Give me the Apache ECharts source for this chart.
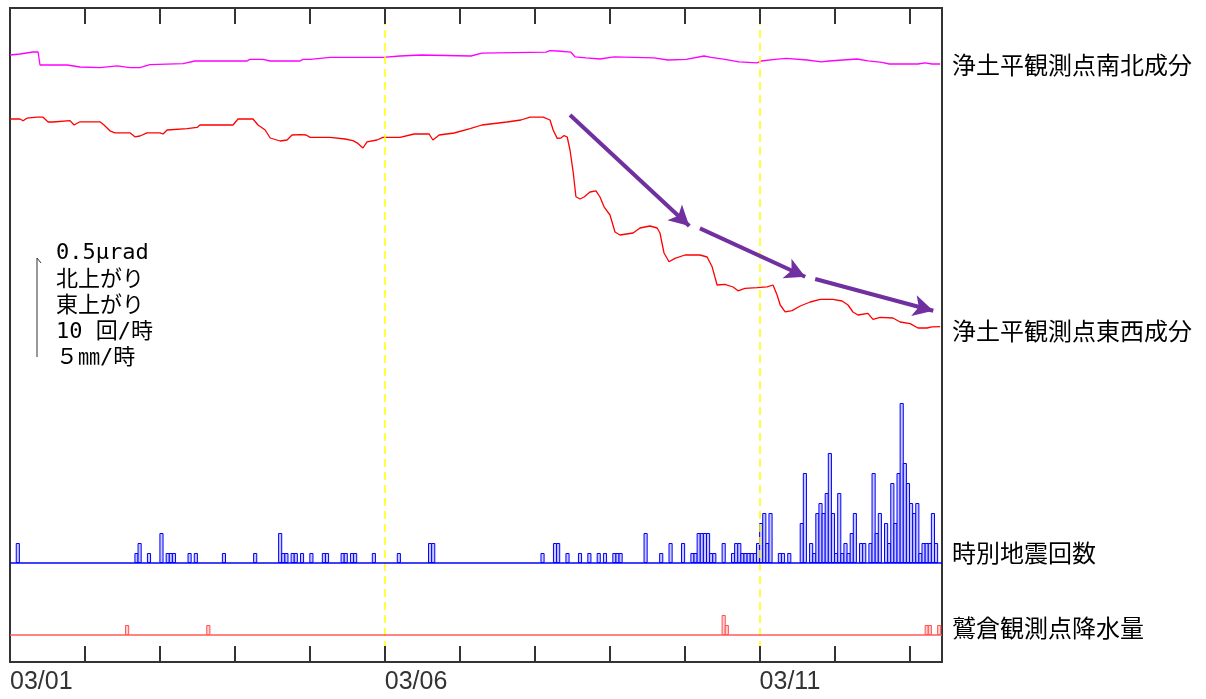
<!DOCTYPE html>
<html><head><meta charset="utf-8">
<script src="https://cdn.jsdelivr.net/npm/echarts@6/dist/echarts.min.js"></script>
<style>html,body{margin:0;padding:0;background:#fff}#c{width:1206px;height:699px}</style>
</head><body><div id="c"></div>
<script>
// x values are hours since 03/01 00:00
const labelHours = [0, 120, 240];
const labelTexts = ['03/01', '03/06', '03/11'];
const guideHours = [120, 240];

// tilt change, μrad (relative to start)
const nsTilt = [[0,0],[3.2,0.005],[7.4,0.015],[9.0,0.015],[9.6,-0.05],[18.3,-0.05],[22.4,-0.06],[28.8,-0.063],[34.3,-0.054],[38.4,-0.063],[41.6,-0.063],[44.8,-0.048],[55.4,-0.043],[59.2,-0.03],[75.9,-0.03],[76.8,-0.022],[81.0,-0.022],[83.3,-0.03],[92.9,-0.03],[93.8,-0.022],[96.1,-0.022],[102.5,-0.012],[119.4,-0.012],[124.9,-0.005],[131.6,0],[132.2,-0.005],[147.6,-0.005],[151.1,0.009],[171.6,0.014],[172.9,0.022],[175.2,0.02],[179.6,0.014],[180.9,-0.009],[184.4,-0.014],[188.9,-0.02],[193.4,-0.009],[206.2,-0.014],[210.7,-0.025],[216.5,-0.022],[222.2,-0.005],[224.5,-0.012],[228.9,-0.022],[233.4,-0.034],[239.2,-0.039],[240.5,-0.03],[245.0,-0.022],[248.5,-0.017],[255.2,-0.025],[259.7,-0.034],[262.2,-0.03],[271.2,-0.02],[274.7,-0.029],[279.2,-0.037],[281.5,-0.045],[290.7,-0.045],[293.0,-0.039],[295.2,-0.045],[297.8,-0.045]];

const ewTilt = [[0,0],[3.2,0],[4.2,-0.009],[5.4,0.004],[8.6,0.009],[10.6,0.009],[12.2,-0.015],[13.8,-0.015],[19.2,-0.008],[20.5,-0.03],[22.4,-0.014],[28.8,-0.014],[30.1,-0.03],[32.0,-0.059],[33.6,-0.069],[38.4,-0.069],[40.0,-0.089],[41.6,-0.085],[43.9,-0.069],[48.0,-0.069],[49.0,-0.075],[50.3,-0.055],[56.7,-0.048],[59.9,-0.042],[60.8,-0.03],[71.4,-0.03],[73.0,0],[77.8,0],[79.4,-0.03],[81.7,-0.055],[83.3,-0.095],[86.5,-0.11],[88.7,-0.105],[90.3,-0.08],[92.9,-0.078],[94.8,-0.08],[96.1,-0.092],[102.5,-0.092],[107.3,-0.1],[109.8,-0.108],[111.4,-0.122],[113.0,-0.145],[114.3,-0.114],[117.5,-0.105],[119.4,-0.092],[124.9,-0.092],[129.4,-0.075],[134.2,-0.075],[135.4,-0.105],[137.4,-0.08],[142.2,-0.07],[147.3,-0.048],[151.1,-0.03],[159.1,-0.015],[163.6,-0.005],[166.5,0.009],[170.7,0.009],[172.9,-0.005],[173.9,-0.055],[175.2,-0.097],[176.4,-0.095],[177.4,-0.083],[178.4,-0.09],[179.3,-0.155],[180.3,-0.264],[181.2,-0.389],[182.5,-0.4],[183.8,-0.39],[185.7,-0.365],[187.6,-0.359],[188.9,-0.39],[190.2,-0.439],[192.1,-0.48],[193.7,-0.565],[195.3,-0.58],[199.5,-0.57],[201.7,-0.545],[204.9,-0.535],[207.2,-0.545],[208.1,-0.57],[209.4,-0.67],[211.0,-0.714],[212.9,-0.697],[216.1,-0.68],[220.9,-0.68],[223.2,-0.69],[224.8,-0.739],[226.4,-0.83],[228.9,-0.827],[231.5,-0.84],[233.1,-0.859],[235.3,-0.847],[239.2,-0.843],[242.4,-0.839],[244.3,-0.83],[245.6,-0.88],[246.6,-0.93],[248.2,-0.964],[250.4,-0.958],[253.0,-0.935],[256.2,-0.915],[259.4,-0.902],[263.5,-0.902],[266.4,-0.91],[268.3,-0.93],[269.9,-0.965],[271.5,-0.98],[274.7,-0.972],[276.3,-1.002],[278.6,-0.992],[282.7,-0.995],[285.0,-1.015],[288.2,-1.023],[290.7,-1.045],[293.6,-1.045],[295.2,-1.039],[297.8,-1.038]];

// hourly earthquake counts: [hour index, count]
const quakeCounts = [[2,2],[40,1],[41,2],[44,1],[48,3],[50,1],[51,1],[52,1],[57,1],[59,1],[68,1],[78,1],[86,3],[87,1],[88,1],[90,1],[91,1],[93,1],[96,1],[100,1],[101,1],[106,1],[107,1],[109,1],[110,1],[116,1],[124,1],[134,2],[135,2],
[170,1],[174,2],[175,2],[178,1],[182,1],[185,1],[188,1],[190,1],[193,1],[194,1],[195,1],[203,3],[208,1],[211,2],[215,2],[218,1],[219,1],[220,3],[221,3],[222,3],[223,3],[224,1],[225,1],[228,2],[231,1],[232,2],[233,2],[234,1],[235,1],[236,1],[237,1],[238,1],[239,2],[240,4],[241,5],[242,2],[243,5],[246,1],[247,1],[249,1],
[253,4],[254,9],[256,2],[257,1],[258,5],[259,6],[260,5],[261,7],[262,11],[263,5],[264,1],[265,7],[266,1],[267,2],[268,1],[269,3],[270,5],[272,2],[273,2],[275,2],[276,9],[277,3],[278,5],[280,4],[281,2],[282,8],[283,4],[284,9],[285,16],[286,10],[287,8],[288,6],[289,5],[290,6],[291,1],[292,2],[293,2],[294,2],[295,5],[296,2]];

// hourly rainfall mm: [hour index, mm]
const rainfall = [[37,0.5],[63,0.5],[228,1.0],[229,0.5],[293,0.5],[294,0.5],[297,0.5]];

// trend arrows [from, to] in (hour, EW μrad)
const trendArrows = [[[179.3,0.02],[217.5,-0.535]],[[220.9,-0.547],[254.6,-0.789]],[[257.8,-0.8],[295.6,-0.959]]];

const seriesLabels = ['浄土平観測点南北成分','浄土平観測点東西成分','時別地震回数','鷲倉観測点降水量'];
const scaleLines = ['0.5μrad','北上がり','東上がり','10 回/時','５㎜/時'];

const X_MAX = 298.4;
const hourW = 932 / X_MAX;

const chart = echarts.init(document.getElementById('c'), null, {renderer:'canvas'});

const xBase = {
  type:'value', min:0, max:X_MAX, interval:24, gridIndex:0, z:10,
  axisLine:{show:false, onZero:false}, splitLine:{show:false},
  axisTick:{show:true, inside:true, length:16, lineStyle:{color:'#333', width:2}}
};

const labelY = [65, 331, 553, 628];
const scaleY = [253, 280, 306, 332, 358];

const graphic = [];
seriesLabels.forEach((t,i)=>{
  graphic.push({type:'text', x:952, y:labelY[i], silent:true,
    style:{text:t, font:'24px "Noto Sans CJK JP"', fill:'#000', textVerticalAlign:'middle', verticalAlign:'middle'}});
});
scaleLines.forEach((t,i)=>{
  graphic.push({type:'text', x:56, y:scaleY[i], silent:true,
    style:{text:t, font:'22px "DejaVu Sans Mono", "Noto Sans CJK JP"', fill:'#000', textVerticalAlign:'middle', verticalAlign:'middle'}});
});
graphic.push({type:'polyline', silent:true, shape:{points:[[41,263],[37,258],[37,357]]}, style:{stroke:'#333', lineWidth:1, fill:null}});

const option = {
  animation:false,
  backgroundColor:'#fff',
  grid:{left:10, right:264, top:8, bottom:37, show:true, borderColor:'#333', borderWidth:2, backgroundColor:'transparent'},
  xAxis:[
    Object.assign({}, xBase, {position:'bottom',
      axisLabel:{show:true, align:'left', margin:8, fontSize:25, fontFamily:'"Liberation Sans"', color:'#333',
        showMaxLabel:false,
        formatter:(v)=>{const i = labelHours.indexOf(v); return i>=0 ? labelTexts[i] : '';}}}),
    Object.assign({}, xBase, {position:'top', axisLabel:{show:false}})
  ],
  yAxis:[
    {type:'value', min:-3.035, max:0.235, show:false},
    {type:'value', min:-2.715, max:0.555, show:false},
    {type:'value', min:-9.9, max:55.5, show:false},
    {type:'value', min:-1.35, max:31.35, show:false}
  ],
  series:[
    {type:'line', name:'NS', xAxisIndex:0, yAxisIndex:0, data:nsTilt, showSymbol:false, symbol:'none',
      lineStyle:{color:'#FF00FF', width:1.3}, z:3,
      markLine:{silent:true, symbol:'none', label:{show:false},
        lineStyle:{color:'#FFFF00', type:[8,5], width:1.5},
        data: guideHours.map(h=>({xAxis:h}))}},
    {type:'line', name:'EW', xAxisIndex:0, yAxisIndex:1, data:ewTilt, showSymbol:false, symbol:'none',
      lineStyle:{color:'#FF0000', width:1.3}, z:3,
      markLine:{silent:true, symbol:['none','arrow'], symbolSize:[16,20], label:{show:false},
        lineStyle:{color:'#7030A0', type:'solid', width:4},
        itemStyle:{color:'#7030A0'},
        data: trendArrows.map(([a,b])=>[{coord:a},{coord:b}])}},
    {type:'bar', name:'EQ', xAxisIndex:0, yAxisIndex:2, data:quakeCounts.map(([h,c])=>[h+0.5,c]),
      barWidth:hourW+1, barGap:'-100%',
      itemStyle:{color:'#C8C8FF', borderColor:'#0000FF', borderWidth:1}, z:2,
      markLine:{silent:true, symbol:'none', label:{show:false}, lineStyle:{color:'#0000FF', type:'solid', width:1.5}, data:[{yAxis:0}]}},
    {type:'bar', name:'Rain', xAxisIndex:0, yAxisIndex:3, data:rainfall.map(([h,r])=>[h+0.5,r]),
      barWidth:hourW+1, barGap:'-100%',
      itemStyle:{color:'#FFD0D0', borderColor:'#FF5050', borderWidth:1}, z:2,
      markLine:{silent:true, symbol:'none', label:{show:false}, lineStyle:{color:'#FF5A5A', type:'solid', width:1.5}, data:[{yAxis:0}]}}
  ],
  graphic: graphic
};
chart.setOption(option);
</script></body></html>
